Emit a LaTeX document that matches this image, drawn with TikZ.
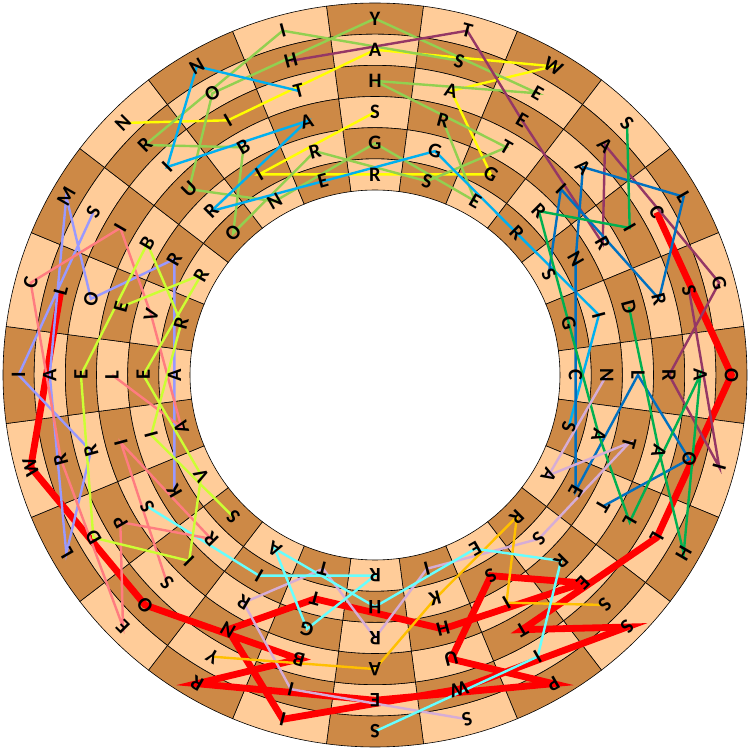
\documentclass[tikz,border=0pt]{standalone}
\usepackage{fontspec}
\newfontfamily\ringfont{Carlito}
\usetikzlibrary{positioning}
\definecolor{celldark}{RGB}{205,137,70}
\definecolor{celllight}{RGB}{255,204,153}
\definecolor{gawaincol}{RGB}{255,255,0}
\definecolor{borscol}{RGB}{146,208,80}
\definecolor{garethcol}{RGB}{149,55,101}
\definecolor{geraintcol}{RGB}{0,176,240}
\definecolor{lancelotcol}{RGB}{0,112,192}
\definecolor{galahadcol}{RGB}{0,176,80}
\definecolor{tristancol}{RGB}{214,173,214}
\definecolor{kaycol}{RGB}{255,192,0}
\definecolor{gaheriscol}{RGB}{102,255,255}
\definecolor{lamorakcol}{RGB}{153,153,255}
\definecolor{percivalcol}{RGB}{255,124,128}
\definecolor{bedivrecol}{RGB}{204,255,51}
\pgfdeclarelayer{cells}
\pgfdeclarelayer{links}
\pgfsetlayers{cells,links,main}

\begin{document}
\begin{tikzpicture}[x=1pt, y=1pt,
    ltr/.style={font=\ringfont\bfseries\fontsize{20.5}{20.5}\selectfont, inner sep=0pt},
    link/.style={line width=2.4pt},
    bold link/.style={line width=6.8pt}]
  \useasboundingbox (-375,-376) rectangle (376,375);

  % the ring of cells
  \begin{pgfonlayer}{cells}
  \foreach \s in {0,...,23} {
    \foreach \r in {0,...,5} {
      \pgfmathsetmacro\angA{97.5-15*\s}
      \pgfmathsetmacro\angB{82.5-15*\s}
      \pgfmathsetmacro\radO{372-31.17*\r}
      \pgfmathsetmacro\radI{372-31.17*(\r+1)}
      \pgfmathtruncatemacro\odd{mod(\s+\r,2)}
      \ifnum\odd=0 \def\cellcol{celldark}\else\def\cellcol{celllight}\fi
      \filldraw[fill=\cellcol, draw=black, line width=0.6pt]
        (\angA:\radO pt) arc[start angle=\angA, end angle=\angB, radius=\radO pt]
        -- (\angB:\radI pt) arc[start angle=\angB, end angle=\angA, radius=\radI pt] -- cycle;
    }
  }
  \end{pgfonlayer}

  % letters, sector by sector, outer ring first
  \foreach \s/\la/\lb/\lc/\ld/\le/\lf in {
      0/Y/A/H/S/G/R, 1/T/S/A/R/G/S, 2/W/E/E/T/G/E, 3/S/A/A/I/R/R,
      4/L/C/I/R/N/S, 5/G/S/R/D/I/G, 6/O/A/R/L/N/C, 7/I/O/A/T/A/S,
      8/H/L/L/T/E/A, 9/S/S/E/R/S/R, 10/P/I/T/I/S/E, 11/S/W/U/H/K/I,
      12/S/E/A/R/H/R, 13/I/I/B/G/T/T, 14/R/Y/N/R/I/A, 15/E/O/S/I/R/S,
      16/L/D/P/S/K/V, 17/W/R/R/I/I/A, 18/I/A/E/L/E/A, 19/C/L/O/E/V/R,
      20/M/S/I/B/R/R, 21/N/R/I/U/R/O, 22/N/O/I/B/I/N, 23/I/H/T/A/R/E} {
    \foreach \r/\ch in {0/\la, 1/\lb, 2/\lc, 3/\ld, 4/\le, 5/\lf} {
      \pgfmathsetmacro\rad{372-31.17*(\r+0.5)}
      \node[ltr, rotate=-15*\s] (n\s-\r) at ({90-15*\s}:\rad pt) {\ch};
    }
  }

  \begin{pgfonlayer}{links}
  % colts win the superbowl
  \draw[bold link, red] (n4-1.center) -- (n6-0.center) -- (n8-1.center) -- (n10-2.center)
    -- (n9-0.center) -- (n11-1.center) -- (n13-0.center) -- (n14-2.center) -- (n13-4.center)
    -- (n11-3.center) -- (n9-2.center) -- (n10-4.center) -- (n11-2.center) -- (n10-0.center)
    -- (n12-1.center) -- (n14-0.center) -- (n13-2.center) -- (n15-1.center) -- (n17-0.center)
    -- (n19-1.center);
  % sir gawain
  \draw[link, gawaincol] (n0-3.center) -- (n22-4.center) -- (n0-5.center) -- (n2-4.center)
    -- (n1-2.center) -- (n2-0.center) -- (n0-1.center) -- (n22-2.center) -- (n21-0.center);
  % sir bors the younger
  \draw[link, borscol] (n1-1.center) -- (n23-0.center) -- (n21-1.center) -- (n22-3.center)
    -- (n21-5.center) -- (n23-4.center) -- (n1-5.center) -- (n2-3.center) -- (n0-2.center)
    -- (n2-1.center) -- (n0-0.center) -- (n22-1.center) -- (n21-3.center) -- (n22-5.center)
    -- (n0-4.center) -- (n2-5.center) -- (n1-3.center);
  % sir gareth
  \draw[link, garethcol] (n5-1.center) -- (n7-0.center) -- (n6-2.center) -- (n5-0.center)
    -- (n3-1.center) -- (n4-3.center) -- (n2-2.center) -- (n1-0.center) -- (n23-1.center);
  % sir geraint
  \draw[link, geraintcol] (n7-5.center) -- (n5-4.center) -- (n3-5.center) -- (n1-4.center)
    -- (n23-5.center) -- (n21-4.center) -- (n23-3.center) -- (n21-2.center) -- (n22-0.center)
    -- (n23-2.center);
  % sir lancelot
  \draw[link, lancelotcol] (n4-5.center) -- (n3-3.center) -- (n5-2.center) -- (n4-0.center)
    -- (n3-2.center) -- (n4-4.center) -- (n6-5.center) -- (n8-4.center) -- (n6-3.center)
    -- (n7-1.center) -- (n8-3.center);
  % sir galahad
  \draw[link, galahadcol] (n3-0.center) -- (n4-2.center) -- (n3-4.center) -- (n5-5.center)
    -- (n7-4.center) -- (n8-2.center) -- (n6-1.center) -- (n8-0.center) -- (n7-2.center)
    -- (n5-3.center);
  % sir tristan
  \draw[link, tristancol] (n11-0.center) -- (n13-1.center) -- (n14-3.center) -- (n13-5.center)
    -- (n12-3.center) -- (n11-5.center) -- (n9-4.center) -- (n7-3.center) -- (n8-5.center)
    -- (n6-4.center);
  % sir kay
  \draw[link, kaycol] (n9-1.center) -- (n10-3.center) -- (n9-5.center) -- (n11-4.center)
    -- (n12-2.center) -- (n14-1.center);
  % sir gaheris
  \draw[link, gaheriscol] (n16-3.center) -- (n14-4.center) -- (n12-5.center) -- (n13-3.center)
    -- (n14-5.center) -- (n12-4.center) -- (n10-5.center) -- (n9-3.center) -- (n10-1.center)
    -- (n12-0.center);
  % sir lamorak
  \draw[link, lamorakcol] (n20-1.center) -- (n18-0.center) -- (n17-2.center) -- (n16-0.center)
    -- (n18-1.center) -- (n20-0.center) -- (n19-2.center) -- (n20-4.center) -- (n18-5.center)
    -- (n16-4.center);
  % sir percival
  \draw[link, percivalcol] (n15-2.center) -- (n17-3.center) -- (n15-4.center) -- (n16-2.center)
    -- (n15-0.center) -- (n17-1.center) -- (n19-0.center) -- (n20-2.center) -- (n19-4.center)
    -- (n17-5.center) -- (n18-3.center);
  % sir bedivere
  \draw[link, bedivrecol] (n15-5.center) -- (n17-4.center) -- (n19-5.center) -- (n20-3.center)
    -- (n18-2.center) -- (n16-1.center) -- (n15-3.center) -- (n16-5.center) -- (n18-4.center)
    -- (n20-5.center) -- (n19-3.center);
  \end{pgfonlayer}
\end{tikzpicture}
\end{document}
